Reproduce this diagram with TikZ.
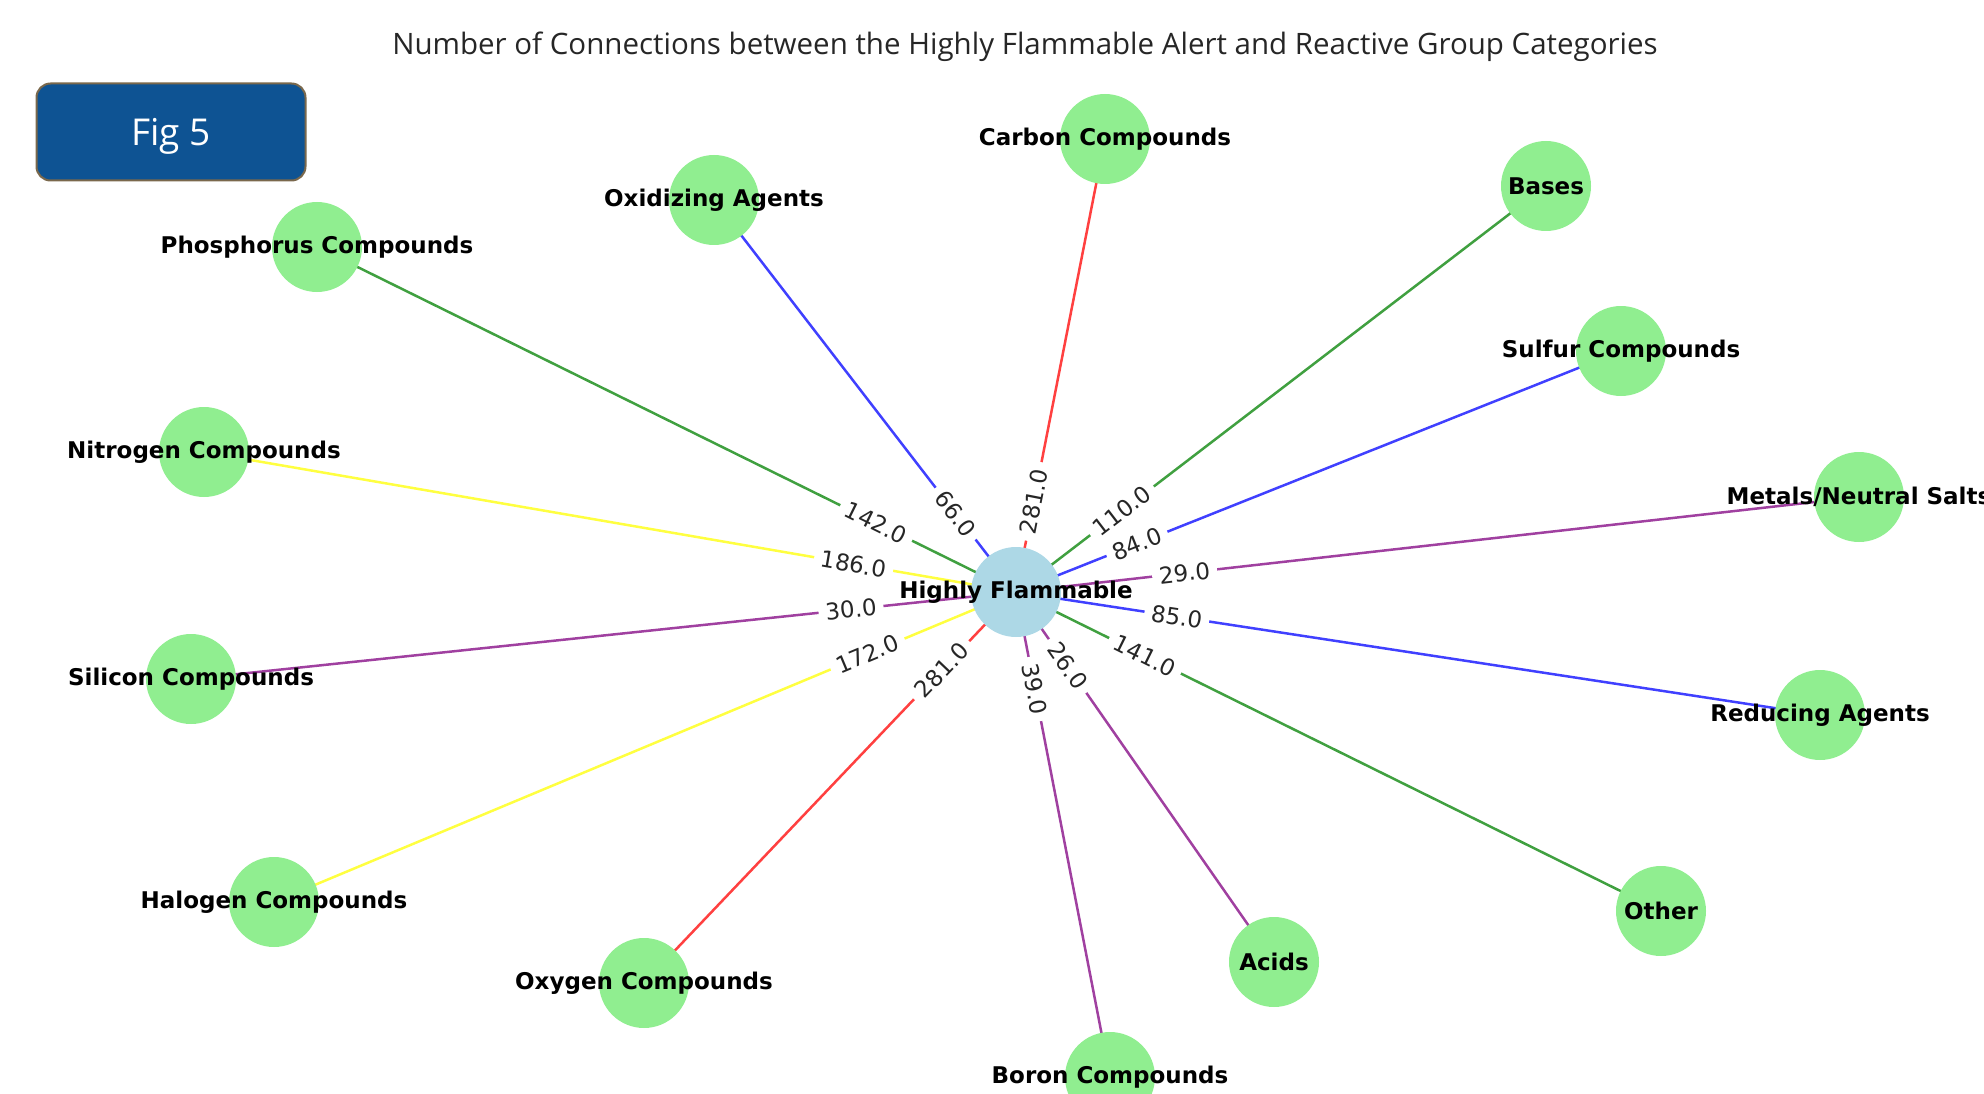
\documentclass[tikz,border=0pt]{standalone}
\usepackage{fontspec}
\setmainfont{DejaVu Sans}
\newfontfamily\titlefont{Open Sans}
\usetikzlibrary{backgrounds}
\definecolor{flamLightGreen}{RGB}{144, 238, 144}
\definecolor{flamLightBlue}{RGB}{173, 216, 230}
\definecolor{flamGreen}{RGB}{0, 128, 0}
\definecolor{flamBlue}{RGB}{0, 0, 255}
\definecolor{flamRed}{RGB}{255, 0, 0}
\definecolor{flamYellow}{RGB}{255, 255, 0}
\definecolor{flamPurple}{RGB}{128, 0, 128}
\definecolor{figBlue}{RGB}{14, 83, 147}
\definecolor{figBorder}{RGB}{122, 104, 76}

\begin{document}
\begin{tikzpicture}[x=1pt,y=-1pt,
  catnode/.style={circle,fill=flamLightGreen,minimum size=90pt,inner sep=0pt},
  cattext/.style={font=\fontsize{23}{23}\selectfont\bfseries,text=black},
  link/.style={line width=2.5pt,draw opacity=0.75},
  wlabel/.style={fill=white,inner xsep=7pt,inner ysep=3pt,font=\fontsize{23}{23}\selectfont,text=black!85,sloped,pos=0.2},
  figbox/.style={draw=figBorder,line width=2pt,fill=figBlue,rounded corners=14pt,minimum width=269pt,minimum height=97pt,text depth=0pt,text=white,font=\titlefont\fontsize{37}{37}\selectfont}
]
  \useasboundingbox (0,0) rectangle (1984,1094);

  \node[font=\titlefont\fontsize{29.5}{29.5}\selectfont,text=black!85] (title) at (1025,47) {Number of Connections between the Highly Flammable Alert and Reactive Group Categories};
  \node[figbox] (fig) at (171,132) {Fig 5};

  % hub and categories
  \node[catnode,fill=flamLightBlue,label={[cattext]center:Highly Flammable}] (hf) at (1016,592) {};
  \node[catnode,label={[cattext]center:Carbon Compounds}] (carbon) at (1105,139) {};
  \node[catnode,label={[cattext]center:Oxidizing Agents}] (oxidizing) at (714,200) {};
  \node[catnode,label={[cattext]center:Phosphorus Compounds}] (phosphorus) at (317,247) {};
  \node[catnode,label={[cattext]center:Bases}] (bases) at (1546,186) {};
  \node[catnode,label={[cattext]center:Sulfur Compounds}] (sulfur) at (1621,351) {};
  \node[catnode,label={[cattext]center:Metals/Neutral Salts}] (metals) at (1859,497) {};
  \node[catnode,label={[cattext]center:Nitrogen Compounds}] (nitrogen) at (204,452) {};
  \node[catnode,label={[cattext]center:Silicon Compounds}] (silicon) at (191,679) {};
  \node[catnode,label={[cattext]center:Reducing Agents}] (reducing) at (1820,715) {};
  \node[catnode,label={[cattext]center:Halogen Compounds}] (halogen) at (274,902) {};
  \node[catnode,label={[cattext]center:Oxygen Compounds}] (oxygen) at (644,983) {};
  \node[catnode,label={[cattext]center:Other}] (other) at (1661,911) {};
  \node[catnode,label={[cattext]center:Acids}] (acids) at (1274,962) {};
  \node[catnode,label={[cattext]center:Boron Compounds}] (boron) at (1110,1077) {};

  % connections with counts
  \begin{scope}[on background layer]
    \foreach \cat/\col/\val in {phosphorus/flamGreen/142.0, oxidizing/flamBlue/66.0,
      carbon/flamRed/281.0, bases/flamGreen/110.0, sulfur/flamBlue/84.0,
      metals/flamPurple/29.0, reducing/flamBlue/85.0, other/flamGreen/141.0,
      acids/flamPurple/26.0, boron/flamPurple/39.0, oxygen/flamRed/281.0,
      halogen/flamYellow/172.0, silicon/flamPurple/30.0, nitrogen/flamYellow/186.0}
      \draw[link,\col] (hf.center) -- node[wlabel] {\val} (\cat.center);
  \end{scope}
\end{tikzpicture}
\end{document}
